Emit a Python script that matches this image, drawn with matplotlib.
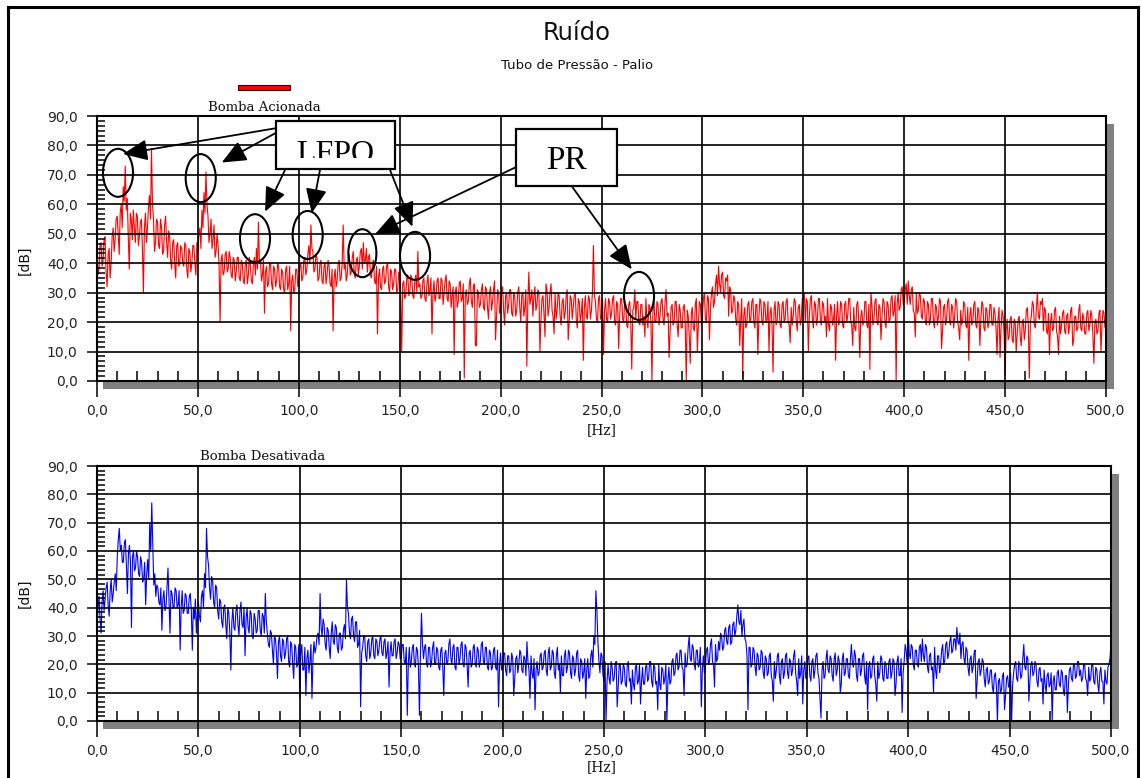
import numpy as np
import matplotlib
matplotlib.use("Agg")
import matplotlib.pyplot as plt
from matplotlib.patches import Rectangle, Ellipse, FancyArrowPatch
from matplotlib.lines import Line2D
from matplotlib.ticker import MultipleLocator, AutoMinorLocator

# ---------------- data ----------------
# spectral lines at whole Hz (0..500) and at the half-Hz points between them (0.5..499.5)
freq_hz = np.arange(0, 501)
freq_half_hz = np.arange(0, 500) + 0.5

red_db = [
    44, 38, 47, 41, 49, 32, 45, 40, 52, 48,
    56, 43, 60, 66, 73, 62, 38, 55, 58, 47,
    56, 49, 55, 30, 57, 52, 63, 79, 55, 47,
    54, 45, 52, 44, 56, 42, 49, 38, 48, 35,
    47, 40, 45, 39, 46, 35, 44, 40, 46, 36,
    44, 52, 58, 64, 71, 56, 50, 45, 53, 44,
    46, 20, 43, 37, 44, 38, 42, 35, 41, 37,
    42, 34, 40, 33, 41, 36, 39, 33, 42, 45,
    54, 41, 36, 23, 39, 33, 40, 31, 38, 34,
    39, 31, 37, 30, 39, 33, 17, 36, 31, 38,
    33, 40, 35, 42, 38, 46, 53, 44, 38, 42,
    35, 41, 33, 40, 36, 39, 32, 17, 38, 34,
    41, 35, 53, 40, 36, 43, 37, 44, 35, 42,
    39, 45, 47, 41, 37, 43, 35, 41, 33, 16,
    38, 31, 39, 34, 40, 30, 37, 33, 38, 31,
    36, 10, 34, 29, 36, 30, 35, 28, 36, 44,
    33, 29, 35, 27, 36, 31, 16, 34, 29, 35,
    28, 34, 30, 36, 27, 33, 29, 9, 32, 27,
    34, 28, 1, 31, 27, 35, 25, 33, 12, 30,
    26, 33, 24, 31, 21, 32, 27, 34, 22, 30,
    25, 32, 19, 30, 26, 31, 22, 29, 24, 32,
    20, 30, 25, 5, 37, 28, 22, 32, 26, 30,
    21, 29, 15, 31, 25, 33, 22, 30, 24, 29,
    19, 28, 23, 31, 20, 28, 25, 30, 18, 27,
    23, 7, 29, 21, 28, 24, 46, 27, 20, 29,
    22, 9, 28, 20, 27, 23, 29, 19, 26, 22,
    28, 20, 26, 18, 27, 4, 25, 21, 27, 19,
    26, 22, 28, 18, 25, 0, 27, 20, 26, 22,
    28, 19, 31, 23, 17, 26, 20, 27, 15, 24,
    18, 26, 0, 22, 6, 25, 17, 28, 19, 26,
    22, 30, 20, 28, 24, 32, 27, 36, 39, 30,
    37, 28, 34, 22, 31, 24, 28, 19, 26, 21,
    1, 25, 19, 27, 21, 28, 18, 26, 22, 27,
    19, 26, 21, 10, 25, 3, 27, 20, 26, 18,
    27, 21, 28, 19, 25, 22, 27, 17, 26, 21,
    28, 20, 27, 22, 29, 18, 26, 21, 28, 19,
    26, 22, 28, 17, 25, 21, 7, 27, 20, 26,
    18, 27, 22, 28, 19, 25, 17, 27, 8, 24,
    20, 27, 18, 4, 26, 21, 28, 19, 25, 22,
    27, 18, 26, 21, 29, 24, 0, 30, 25, 32,
    27, 33, 34, 26, 32, 23, 30, 24, 29, 21,
    27, 19, 26, 21, 28, 18, 25, 22, 27, 17,
    26, 21, 28, 19, 25, 22, 27, 18, 24, 21,
    26, 18, 7, 25, 20, 27, 18, 24, 21, 26,
    17, 24, 20, 26, 19, 23, 9, 25, 18, 22,
    2, 21, 15, 22, 13, 20, 16, 22, 12, 21,
    17, 25, 1, 22, 26, 18, 30, 21, 26, 17,
    24, 16, 9, 23, 18, 25, 15, 22, 19, 24,
    16, 23, 19, 25, 14, 22, 18, 26, 17, 21,
    16, 24, 19, 22, 6, 21, 17, 24, 19, 23,
    20,
]

red_db_half = [
    36, 46, 39, 48, 37, 43, 35, 49, 44, 55,
    50, 57, 52, 61, 58, 49, 57, 48, 52, 57,
    46, 54, 45, 52, 47, 59, 55, 60, 44, 55,
    46, 55, 43, 53, 47, 51, 41, 47, 40, 46,
    39, 46, 40, 47, 38, 45, 37, 46, 40, 47,
    50, 45, 52, 57, 60, 47, 55, 48, 42, 50,
    39, 41, 36, 43, 37, 44, 36, 42, 34, 42,
    35, 41, 34, 40, 33, 42, 34, 40, 36, 38,
    40, 34, 41, 37, 32, 40, 33, 39, 32, 40,
    32, 38, 31, 38, 31, 39, 34, 30, 38, 32,
    39, 34, 41, 36, 43, 40, 45, 37, 43, 34,
    40, 34, 39, 33, 41, 33, 38, 35, 32, 40,
    34, 40, 38, 34, 42, 36, 42, 36, 41, 36,
    44, 38, 40, 45, 42, 36, 40, 34, 39, 35,
    32, 38, 33, 39, 32, 38, 31, 38, 30, 37,
    30, 33, 28, 35, 29, 36, 29, 34, 30, 32,
    28, 34, 28, 33, 29, 35, 30, 27, 34, 28,
    35, 26, 34, 28, 34, 25, 32, 30, 25, 33,
    27, 33, 29, 26, 33, 27, 32, 12, 31, 25,
    31, 25, 32, 25, 30, 24, 31, 14, 31, 23,
    31, 24, 29, 23, 31, 23, 30, 22, 30, 25,
    29, 22, 31, 27, 26, 31, 29, 24, 31, 10,
    28, 23, 33, 22, 30, 24, 16, 21, 30, 22,
    27, 21, 29, 14, 29, 21, 29, 21, 28, 20,
    28, 25, 22, 29, 21, 30, 29, 21, 28, 21,
    28, 24, 21, 28, 21, 28, 20, 27, 11, 28,
    21, 27, 19, 26, 20, 24, 31, 27, 20, 26,
    19, 15, 21, 26, 20, 24, 20, 27, 19, 27,
    21, 27, 22, 8, 25, 19, 27, 19, 26, 18,
    25, 19, 24, 15, 23, 18, 26, 10, 27, 19,
    28, 21, 29, 14, 30, 25, 33, 29, 33, 36,
    29, 35, 36, 32, 23, 29, 21, 27, 12, 28,
    22, 18, 26, 20, 27, 20, 26, 9, 28, 20,
    27, 20, 27, 23, 19, 24, 19, 27, 19, 26,
    20, 27, 20, 13, 19, 28, 20, 25, 19, 28,
    30, 28, 10, 28, 21, 27, 19, 28, 20, 27,
    20, 15, 19, 26, 19, 26, 22, 19, 27, 19,
    26, 20, 28, 20, 12, 18, 26, 20, 22, 19,
    27, 19, 26, 30, 19, 27, 20, 26, 14, 28,
    20, 27, 20, 28, 22, 29, 26, 24, 31, 26,
    31, 26, 29, 31, 24, 15, 23, 30, 22, 28,
    20, 27, 19, 28, 20, 26, 19, 28, 11, 25,
    19, 27, 20, 26, 18, 28, 20, 14, 19, 27,
    19, 25, 22, 19, 26, 19, 25, 12, 27, 18,
    25, 18, 26, 19, 25, 18, 21, 8, 24, 16,
    17, 14, 21, 14, 21, 10, 21, 15, 20, 14,
    24, 19, 20, 27, 19, 25, 22, 27, 28, 25,
    17, 23, 20, 17, 24, 17, 9, 16, 23, 17,
    22, 16, 24, 12, 22, 17, 24, 18, 23, 16,
    23, 17, 24, 16, 20, 16, 23, 10, 24, 18,
]

blue_db = [
    33, 44, 31, 46, 43, 49, 37, 50, 45, 52,
    58, 68, 62, 56, 64, 45, 62, 33, 60, 54,
    58, 51, 56, 50, 41, 57, 70, 77, 48, 44,
    47, 41, 32, 46, 40, 54, 31, 45, 40, 46,
    41, 25, 46, 39, 44, 38, 45, 25, 36, 31,
    42, 35, 46, 52, 68, 55, 43, 50, 40, 47,
    36, 42, 33, 41, 29, 38, 18, 40, 32, 41,
    30, 42, 33, 23, 40, 31, 38, 29, 36, 32,
    39, 30, 37, 45, 31, 26, 31, 20, 29, 15,
    30, 21, 28, 24, 30, 19, 27, 15, 26, 20,
    8, 27, 18, 9, 25, 21, 8, 28, 26, 31,
    45, 30, 34, 25, 32, 22, 35, 27, 33, 24,
    31, 26, 34, 50, 38, 29, 37, 28, 35, 27,
    5, 26, 30, 21, 29, 24, 30, 22, 28, 25,
    30, 23, 29, 24, 12, 28, 23, 29, 24, 27,
    22, 27, 20, 2, 26, 21, 27, 19, 25, 2,
    38, 22, 27, 19, 26, 21, 28, 20, 25, 18,
    26, 9, 25, 21, 29, 20, 27, 18, 26, 22,
    28, 19, 26, 12, 25, 20, 27, 19, 25, 21,
    28, 20, 26, 18, 24, 19, 26, 18, 5, 24,
    19, 24, 16, 23, 18, 22, 15, 23, 20, 24,
    17, 22, 28, 18, 23, 15, 4, 21, 17, 24,
    19, 25, 16, 26, 19, 24, 15, 26, 20, 23,
    16, 25, 19, 24, 15, 22, 18, 25, 14, 21,
    17, 8, 22, 16, 25, 30, 46, 28, 17, 23,
    14, 0, 20, 13, 19, 15, 21, 12, 20, 14,
    19, 12, 21, 15, 18, 11, 20, 14, 6, 19,
    13, 20, 15, 21, 12, 19, 14, 20, 11, 18,
    15, 0, 19, 14, 22, 17, 24, 19, 25, 18,
    24, 20, 30, 21, 26, 18, 25, 20, 5, 23,
    19, 26, 21, 29, 20, 27, 22, 25, 30, 26,
    33, 27, 34, 28, 35, 32, 41, 34, 30, 36,
    28, 4, 26, 20, 25, 16, 23, 19, 24, 15,
    22, 17, 24, 14, 21, 18, 24, 13, 22, 17,
    24, 15, 21, 18, 25, 14, 22, 17, 6, 21,
    16, 23, 14, 22, 18, 24, 15, 1, 21, 16,
    25, 17, 22, 14, 24, 18, 21, 13, 24, 17,
    22, 15, 27, 19, 23, 14, 22, 18, 24, 13,
    4, 21, 16, 23, 13, 21, 17, 22, 14, 20,
    15, 22, 17, 21, 13, 23, 16, 3, 21, 25,
    32, 22, 26, 18, 25, 19, 27, 29, 21, 26,
    17, 24, 19, 26, 15, 23, 20, 27, 21, 28,
    24, 30, 25, 29, 33, 27, 22, 28, 20, 25,
    16, 23, 19, 25, 14, 22, 18, 21, 12, 19,
    14, 18, 10, 17, 0, 15, 11, 17, 9, 16,
    12, 0, 17, 21, 14, 20, 16, 27, 18, 22,
    14, 21, 17, 20, 12, 19, 15, 18, 10, 17,
    13, 0, 16, 11, 18, 12, 17, 9, 16, 13,
    19, 14, 20, 16, 21, 18, 15, 20, 14, 19,
    15, 20, 13, 18, 10, 19, 14, 18, 13, 20,
    27,
]

blue_db_half = [
    40, 36, 42, 39, 47, 41, 46, 42, 49, 46,
    64, 60, 56, 63, 55, 59, 56, 58, 53, 60,
    52, 58, 49, 56, 52, 50, 60, 62, 52, 48,
    42, 47, 43, 39, 47, 43, 46, 40, 47, 40,
    46, 40, 38, 45, 38, 44, 39, 40, 43, 38,
    37, 44, 40, 47, 58, 47, 51, 42, 48, 39,
    43, 35, 40, 34, 40, 31, 35, 33, 39, 34,
    39, 34, 40, 36, 33, 39, 30, 38, 31, 39,
    32, 38, 31, 35, 27, 32, 25, 30, 24, 28,
    23, 29, 22, 29, 21, 28, 20, 27, 19, 27,
    24, 18, 26, 22, 17, 27, 22, 24, 30, 27,
    33, 36, 27, 33, 26, 31, 28, 34, 26, 31,
    25, 32, 29, 40, 31, 36, 30, 35, 26, 32,
    24, 30, 23, 28, 22, 29, 23, 29, 23, 29,
    24, 28, 22, 28, 24, 23, 28, 22, 28, 22,
    27, 21, 26, 20, 19, 26, 20, 26, 19, 24,
    27, 26, 20, 26, 19, 26, 20, 26, 19, 25,
    19, 24, 20, 27, 22, 26, 19, 26, 20, 27,
    20, 27, 20, 24, 19, 26, 20, 26, 19, 27,
    21, 26, 19, 25, 18, 25, 19, 25, 20, 18,
    24, 18, 23, 17, 24, 9, 22, 17, 25, 18,
    23, 16, 21, 8, 17, 22, 18, 16, 23, 18,
    24, 18, 24, 18, 25, 17, 23, 18, 10, 16,
    23, 17, 25, 17, 23, 16, 24, 16, 22, 15,
    22, 18, 15, 23, 19, 27, 39, 21, 24, 16,
    21, 14, 15, 21, 14, 20, 5, 20, 13, 20,
    13, 20, 14, 6, 13, 19, 13, 20, 14, 13,
    19, 14, 21, 14, 20, 13, 4, 13, 19, 13,
    20, 14, 13, 21, 16, 23, 18, 25, 19, 9,
    19, 26, 22, 27, 20, 25, 19, 26, 18, 17,
    25, 20, 27, 21, 12, 21, 28, 31, 25, 32,
    28, 33, 27, 34, 30, 37, 35, 39, 34, 29,
    23, 26, 19, 26, 19, 24, 18, 25, 17, 23,
    16, 23, 16, 7, 15, 23, 16, 21, 15, 23,
    17, 22, 16, 23, 17, 9, 15, 23, 18, 15,
    22, 16, 21, 15, 23, 17, 8, 18, 15, 22,
    18, 23, 16, 22, 16, 23, 10, 22, 16, 22,
    16, 22, 20, 25, 16, 22, 16, 23, 16, 21,
    19, 15, 22, 16, 7, 15, 23, 15, 21, 15,
    21, 15, 22, 9, 21, 16, 22, 17, 27, 20,
    24, 27, 20, 25, 20, 26, 21, 23, 27, 19,
    23, 18, 10, 18, 23, 17, 25, 20, 27, 22,
    28, 24, 29, 25, 28, 31, 27, 22, 26, 19,
    22, 17, 24, 8, 21, 16, 22, 15, 18, 13,
    18, 12, 16, 12, 14, 10, 16, 4, 15, 12,
    17, 13, 20, 15, 21, 15, 22, 19, 23, 7,
    20, 16, 21, 14, 18, 14, 6, 13, 16, 12,
    17, 14, 11, 17, 13, 18, 11, 16, 3, 18,
    15, 20, 15, 21, 16, 14, 20, 15, 9, 14,
    20, 14, 19, 13, 17, 14, 6, 14, 19, 22,
]

x_ticks = [0, 50, 100, 150, 200, 250, 300, 350, 400, 450, 500]
x_tick_labels = ["0,0", "50,0", "100,0", "150,0", "200,0", "250,0",
                 "300,0", "350,0", "400,0", "450,0", "500,0"]
y_ticks = [0, 10, 20, 30, 40, 50, 60, 70, 80, 90]
y_tick_labels = ["0,0", "10,0", "20,0", "30,0", "40,0", "50,0",
                 "60,0", "70,0", "80,0", "90,0"]

title_text = "Ruído"
subtitle_text = "Tubo de Pressão - Palio"
top_series_name = "Bomba Acionada"
bottom_series_name = "Bomba Desativada"
x_label = "[Hz]"
y_label = "[dB]"


def merge_lines(whole, half):
    """Order whole-Hz and half-Hz lines by frequency into one trace."""
    xs = np.concatenate([freq_hz, freq_half_hz])
    ys = np.concatenate([np.asarray(whole, float), np.asarray(half, float)])
    order = np.argsort(xs, kind="stable")
    return xs[order], ys[order]


# ---------------- figure ----------------
W, H = 1141, 778
fig = plt.figure(figsize=(W / 100, H / 100), dpi=100)
fig.patch.set_facecolor("white")


def fx(x):
    return x / W


def fy(y):
    return 1 - y / H


def make_axes(left, right, top, bottom):
    return fig.add_axes([fx(left), fy(bottom), fx(right) - fx(left), fy(top) - fy(bottom)])


ax1 = make_axes(97, 1106, 116, 381)
ax2 = make_axes(97, 1111, 466, 721)


def style_axes(ax):
    ax.set_xlim(0, 500)
    ax.set_ylim(0, 90)
    ax.set_xticks(x_ticks)
    ax.set_xticklabels(x_tick_labels)
    ax.set_yticks(y_ticks)
    ax.set_yticklabels(y_tick_labels)
    ax.xaxis.set_minor_locator(MultipleLocator(10))
    ax.yaxis.set_minor_locator(AutoMinorLocator(6))
    ax.tick_params(axis="x", which="major", direction="out", length=11.5, width=1.1,
                   pad=5, labelsize=10, labelcolor="#222222")
    ax.tick_params(axis="y", which="major", direction="out", length=7, width=1.1,
                   pad=7, labelsize=10, labelcolor="#222222")
    ax.tick_params(axis="x", which="minor", direction="in", length=7, width=1.1)
    ax.tick_params(axis="y", which="minor", direction="in", length=5.5, width=1.1)
    ax.grid(True, which="major", color="black", linewidth=1.2)
    ax.set_axisbelow(False)
    for s in ax.spines.values():
        s.set_color("black")
        s.set_linewidth(1.5)


style_axes(ax1)
style_axes(ax2)

rx, ry = merge_lines(red_db, red_db_half)
bx, by = merge_lines(blue_db, blue_db_half)
ax1.plot(rx, ry, color="#ff0000", linewidth=0.8, zorder=2)
ax2.plot(bx, by, color="#0000ff", linewidth=0.8, zorder=2)

# drop shadows of the plot frames
for (l, r, t, b) in [(97, 1106, 116, 381), (97, 1111, 466, 721)]:
    fig.add_artist(Rectangle((fx(r + 1), fy(b + 8)), fx(7), fy(t + 8) - fy(b + 8),
                             transform=fig.transFigure, facecolor="#808080",
                             edgecolor="none", zorder=-1))
    fig.add_artist(Rectangle((fx(l + 6), fy(b + 8)), fx(r + 8) - fx(l + 6), 7 / H,
                             transform=fig.transFigure, facecolor="#808080",
                             edgecolor="none", zorder=-1))

# outer frame
for xs, ys in [([7.5, 7.5], [778, 6.5]), ([7.5, 1137.5], [6.5, 6.5]),
               ([1137.5, 1137.5], [6.5, 778])]:
    fig.add_artist(Line2D([fx(v) for v in xs], [fy(v) for v in ys],
                          transform=fig.transFigure, color="black", linewidth=2.2))

# titles
fig.text(fx(577), fy(40), title_text, ha="center", va="baseline", fontsize=17.5,
         family="DejaVu Sans", color="#111111")
fig.text(fx(577), fy(69), subtitle_text, ha="center", va="baseline", fontsize=9.5,
         family="DejaVu Sans", color="#111111")

# series labels
fig.add_artist(Rectangle((fx(238), fy(90)), fx(52), 5 / H, transform=fig.transFigure,
                         facecolor="#ff0000", edgecolor="#300000", linewidth=0.8))
fig.text(fx(264), fy(111), top_series_name, ha="center", va="baseline", fontsize=9.5,
         family="DejaVu Serif", color="#111111")
fig.text(fx(263), fy(460), bottom_series_name, ha="center", va="baseline", fontsize=9.5,
         family="DejaVu Serif", color="#111111")

# axis labels
for yy in (430, 767):
    fig.text(fx(602), fy(yy), x_label, ha="center", va="center", fontsize=10,
             family="DejaVu Serif", color="#111111")
for yy in (260, 593):
    fig.text(fx(25), fy(yy), y_label, ha="center", va="center", rotation=90,
             fontsize=10, family="DejaVu Sans", color="#111111")

# ---------------- annotations (top panel, data coordinates) ----------------
T = ax1.transData
ellipses = [(10.4, 70.7, 14.9), (51.4, 68.9, 14.9), (78.3, 48.5, 14.9),
            (104.4, 49.6, 14.9), (131.5, 43.4, 13.9), (157.6, 42.5, 14.9),
            (268.6, 28.9, 14.9)]
for cx, cy, w in ellipses:
    ax1.add_patch(Ellipse((cx, cy), w, 16.3, transform=T, fill=False,
                          edgecolor="black", linewidth=1.5, clip_on=False, zorder=8))

arrows = [((88.2, 85.8), (12.9, 77.1)), ((88.2, 84.1), (61.8, 74.2)),
          ((93.2, 71.7), (83.3, 57.5)), ((110.5, 71.7), (106.4, 57.0)),
          ((145.2, 71.7), (156.3, 52.4)), ((207.5, 72.6), (137.8, 49.9)),
          ((235.2, 66.2), (265.0, 37.9))]
for a, b in arrows:
    ax1.add_patch(FancyArrowPatch(a, b, transform=T,
                                  arrowstyle="-|>,head_length=15,head_width=6.5",
                                  mutation_scale=1, color="black", linewidth=1.3,
                                  shrinkA=0, shrinkB=0, clip_on=False, zorder=9))

# LFPO box (text clipped at the bottom like in the source)
ax1.add_patch(Rectangle((88.7, 72.0), 59.0, 16.3, transform=T, facecolor="white",
                        edgecolor="none", clip_on=False, zorder=10))
ax1.text(118.2, 74.4, "LFPO", transform=T, ha="center", va="baseline", fontsize=23,
         family="Liberation Serif", color="black", zorder=11, clip_on=False)
ax1.add_patch(Rectangle((89.2, 72.2), 58.0, 3.5, transform=T, facecolor="white",
                        edgecolor="none", clip_on=False, zorder=12))
ax1.add_patch(Rectangle((88.7, 72.0), 59.0, 16.3, transform=T, fill=False,
                        edgecolor="black", linewidth=1.6, clip_on=False, zorder=13))

# PR box
ax1.add_patch(Rectangle((207.6, 66.2), 50.1, 19.4, transform=T, facecolor="white",
                        edgecolor="black", linewidth=1.6, clip_on=False, zorder=10))
ax1.text(232.6, 72.0, "PR", transform=T, ha="center", va="baseline", fontsize=24,
         family="Liberation Serif", color="black", zorder=11, clip_on=False)

fig.savefig("out.png", dpi=100, facecolor="white")
